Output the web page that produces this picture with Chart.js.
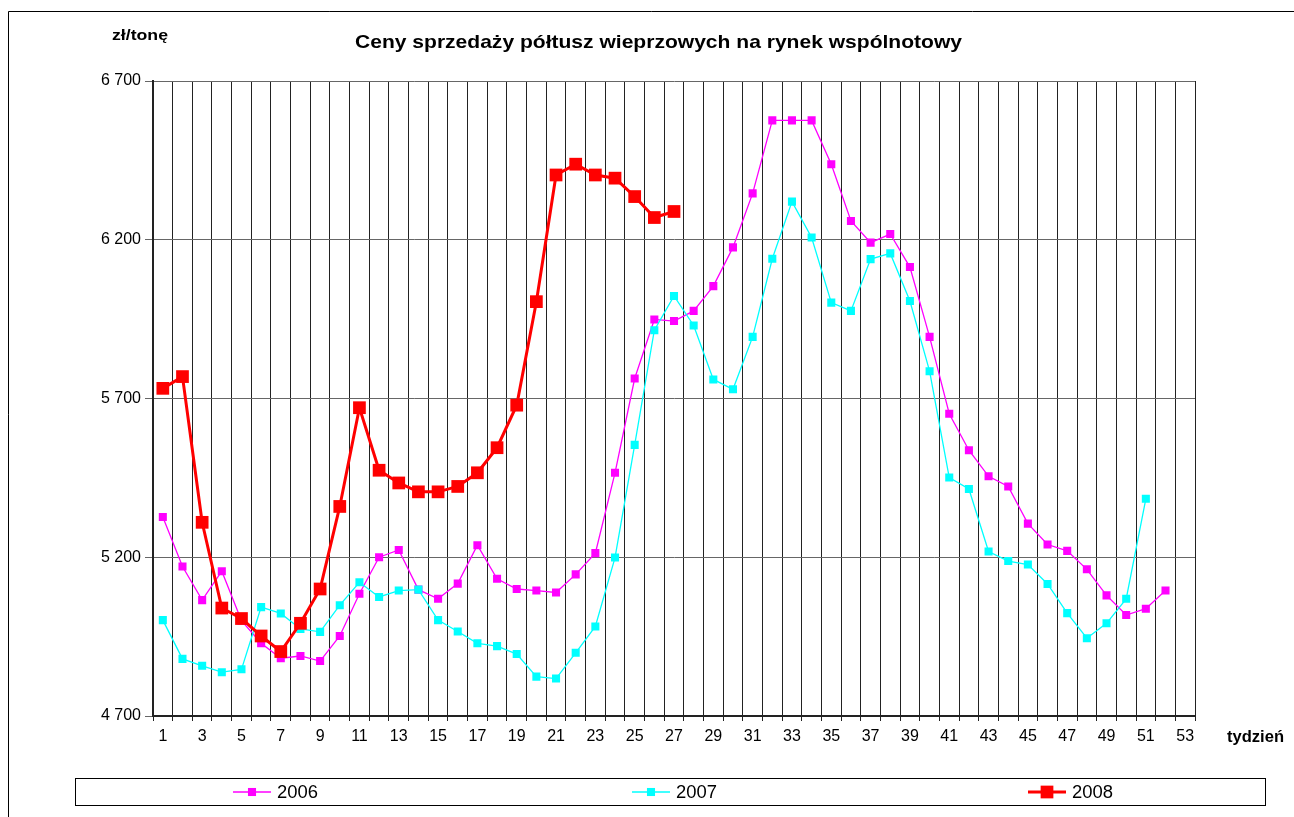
<!DOCTYPE html>
<html>
<head>
<meta charset="utf-8">
<script src="https://cdn.jsdelivr.net/npm/chart.js@4/dist/chart.umd.min.js"></script>
<style>
  html, body { margin:0; padding:0; background:#fff; }
  canvas { display:block; }
</style>
</head>
<body>
<canvas id="c" width="1294" height="817"></canvas>
<script>
// tygodnie 1..53
const weeks = Array.from({length:53}, (_,i) => String(i+1));

// ceny zł/tonę
const y2006 = [5327,5171,5065,5156,5000,4929,4882,4889,4873,4952,5085,5200,5223,5098,5069,5117,5238,5132,5100,5095,
  5089,5146,5213,5466,5763,5949,5944,5976,6054,6176,6346,6576,6576,6576,6438,6259,6191,6218,6114,5894,
  5652,5537,5455,5423,5306,5240,5220,5162,5080,5018,5038,5095,null];
const y2007 = [5002,4880,4858,4838,4847,5043,5023,4974,4965,5049,5121,5075,5095,5098,5002,4966,4929,4920,4895,4824,
  4818,4899,4982,5199,5554,5915,6023,5930,5760,5729,5894,6140,6320,6207,6002,5976,6139,6157,6007,5786,
  5451,5415,5218,5188,5177,5116,5024,4945,4992,5069,5384,null,null];
const y2008 = [5732,5769,5310,5040,5007,4952,4903,4992,5100,5360,5671,5474,5434,5406,5406,5423,5466,5545,5679,6005,
  6404,6438,6404,6394,6336,6270,6289];

const yTicks = [4700,5200,5700,6200,6700];

const FONT = "'Liberation Sans', Arial, sans-serif";

function fmt(v) {
  return String(v).replace(/\B(?=(\d{3})+(?!\d))/g, " ");
}

// tekst rozciągnięty w poziomie do zadanej szerokości (jak w Excelu)
function fillWide(ctx, text, x, y, w) {
  const m = ctx.measureText(text).width;
  ctx.save();
  ctx.translate(x, y);
  ctx.scale(w / m, 1);
  ctx.textAlign = "left";
  ctx.fillText(text, 0, 0);
  ctx.restore();
}

// tytuł, opisy osi, ramka i legenda w pudełku
const decor = {
  id: "decor",
  afterDraw(chart) {
    const ctx = chart.ctx;
    ctx.save();
    // ramka wykresu
    ctx.strokeStyle = "#000";
    ctx.lineWidth = 1;
    ctx.beginPath();
    ctx.moveTo(8.5, 817); ctx.lineTo(8.5, 11.5); ctx.lineTo(1294, 11.5);
    ctx.stroke();

    ctx.fillStyle = "#000";
    ctx.textBaseline = "alphabetic";
    ctx.font = "bold 19px " + FONT;
    fillWide(ctx, "Ceny sprzedaży półtusz wieprzowych na rynek wspólnotowy", 355, 48, 607);

    ctx.font = "bold 15px " + FONT;
    fillWide(ctx, "zł/tonę", 112, 40, 56);
    ctx.font = "bold 16px " + FONT;
    fillWide(ctx, "tydzień", 1227, 742, 57);

    // legenda
    ctx.strokeStyle = "#000";
    ctx.strokeRect(75.5, 778.5, 1190, 27);
    const starts = [233, 632, 1028];
    chart.data.datasets.forEach((ds, i) => {
      const x0 = starts[i], yc = 792;
      ctx.strokeStyle = ds.borderColor;
      ctx.lineWidth = ds.borderWidth;
      ctx.beginPath(); ctx.moveTo(x0, yc); ctx.lineTo(x0 + 38, yc); ctx.stroke();
      const s = ds.pointRadius * Math.SQRT1_2;
      ctx.fillStyle = ds.backgroundColor;
      ctx.fillRect(x0 + 19 - s, yc - s, 2*s, 2*s);
      ctx.fillStyle = "#000";
      ctx.font = "18px " + FONT;
      ctx.textBaseline = "middle";
      fillWide(ctx, ds.label, x0 + 44, yc + 1, 41);
    });
    ctx.restore();
  }
};

new Chart(document.getElementById("c"), {
  type: "line",
  data: {
    labels: weeks,
    datasets: [
      { label:"2006", data:y2006, borderColor:"#FF00FF", backgroundColor:"#FF00FF", borderWidth:1.3,
        pointStyle:"rect", pointRadius:5.7, pointBorderWidth:0, tension:0, order:2 },
      { label:"2007", data:y2007, borderColor:"#00FFFF", backgroundColor:"#00FFFF", borderWidth:1.3,
        pointStyle:"rect", pointRadius:5.7, pointBorderWidth:0, tension:0, order:1 },
      { label:"2008", data:y2008, borderColor:"#FF0000", backgroundColor:"#FF0000", borderWidth:3,
        pointStyle:"rect", pointRadius:9, pointBorderWidth:0, tension:0, order:0 }
    ]
  },
  options: {
    responsive:false,
    animation:false,
    layout: { padding:{ left:83, right:99, top:81, bottom:71 } },
    plugins: { legend:{display:false}, tooltip:{enabled:false}, title:{display:false} },
    scales: {
      x: {
        offset:true,
        grid:{ offset:true, color:"#222", lineWidth:1, tickLength:5, drawTicks:true },
        border:{ color:"#222", width:2 },
        ticks:{ autoSkip:false, maxRotation:0, padding:6, color:"#000",
          font:{ family:FONT, size:16 },
          callback:(v,i) => i % 2 === 0 ? weeks[i] : "" },
        afterFit: s => { s.height = 30; }
      },
      y: {
        min:yTicks[0], max:yTicks[yTicks.length-1],
        afterBuildTicks: s => { s.ticks = yTicks.map(v => ({value:v})); },
        grid:{ color:"#666", lineWidth:1, tickLength:8 },
        border:{ color:"#222", width:2 },
        ticks:{ padding:4, color:"#000", font:{ family:FONT, size:16 }, callback: v => fmt(v) },
        afterFit: s => { s.width = 70; }
      }
    }
  },
  plugins:[decor]
});
</script>
</body>
</html>
